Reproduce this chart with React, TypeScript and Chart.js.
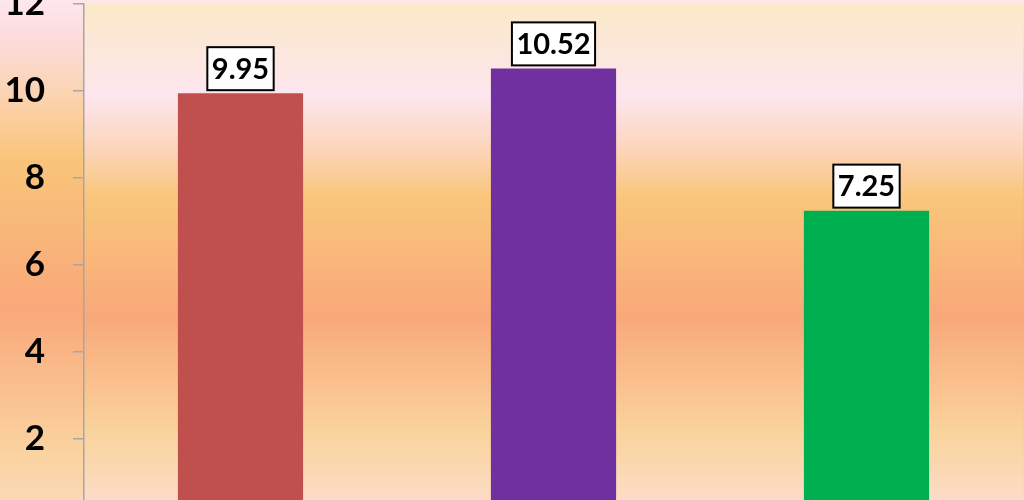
import React, { useEffect, useRef } from "react";
import { Chart, registerables } from "chart.js";

Chart.register(...registerables);

const categories = ["Category 1", "Category 2", "Category 3"];
const values = [9.95, 10.52, 7.25];
const barColors = ["#C0504D", "#7030A0", "#00B050"];
const yMin = 0;
const yMax = 12;
const yStep = 2;

const plotStops: [number, string][] = [
  [0, "#fbe9c8"],
  [0.175, "#fde6ef"],
  [0.27, "#fcd6bf"],
  [0.37, "#f9c67a"],
  [0.6, "#f9a87a"],
  [0.82, "#fad39c"],
  [1, "#fcdfd6"],
];
const outerStops: [number, string][] = [
  [0, "#fdf0e0"],
  [0.12, "#fde8ec"],
  [0.175, "#fcdde0"],
  [0.27, "#fbd3b0"],
  [0.37, "#f9c47a"],
  [0.6, "#f9a87a"],
  [0.82, "#fad3a0"],
  [1, "#fcdfd6"],
];

const OFFSET = 45;

const bgPlugin = {
  id: "bgPlugin",
  beforeDraw(chart: any) {
    const { ctx, width, height, chartArea } = chart;
    ctx.save();
    const g = ctx.createLinearGradient(0, OFFSET - 80, 0, OFFSET + 570);
    outerStops.forEach(([o, c]) => g.addColorStop(o, c));
    ctx.fillStyle = g;
    ctx.fillRect(0, 0, width, height);
    const p = ctx.createLinearGradient(0, chartArea.top, 0, chartArea.bottom);
    plotStops.forEach(([o, c]) => p.addColorStop(o, c));
    ctx.fillStyle = p;
    ctx.fillRect(chartArea.left, chartArea.top, chartArea.right - chartArea.left, chartArea.bottom - chartArea.top);
    ctx.restore();
  },
};

const labelPlugin = {
  id: "labelPlugin",
  afterDatasetsDraw(chart: any) {
    const { ctx } = chart;
    const meta = chart.getDatasetMeta(0);
    ctx.save();
    ctx.font = "700 29px Lato";
    meta.data.forEach((bar: any, i: number) => {
      const text = values[i].toFixed(2);
      const w = ctx.measureText(text).width + 9;
      const h = 43;
      const x = bar.x - w / 2;
      const y = bar.y - 3 - h;
      ctx.fillStyle = "#ffffff";
      ctx.fillRect(x, y, w, h);
      ctx.strokeStyle = "#000000";
      ctx.lineWidth = 2;
      ctx.strokeRect(x, y, w, h);
      ctx.fillStyle = "#000000";
      ctx.textAlign = "center";
      ctx.textBaseline = "middle";
      ctx.fillText(text, bar.x, y + h / 2 + 1);
    });
    ctx.restore();
  },
};

export default function App() {
  const ref = useRef<HTMLCanvasElement | null>(null);
  useEffect(() => {
    if (!ref.current) return;
    const chart = new Chart(ref.current, {
      type: "bar",
      data: {
        labels: categories,
        datasets: [
          {
            data: values,
            backgroundColor: barColors,
            borderWidth: 0,
            barPercentage: 0.4,
            categoryPercentage: 1.0,
          },
        ],
      },
      options: {
        animation: false,
        responsive: true,
        maintainAspectRatio: false,
        layout: { padding: { top: 0, bottom: 0, left: 0, right: 1 } },
        plugins: {
          legend: { display: false },
          tooltip: { enabled: false },
        },
        scales: {
          x: { display: false },
          y: {
            min: yMin,
            max: yMax,
            afterFit: (scale: any) => {
              scale.width = 84;
            },
            ticks: {
              stepSize: yStep,
              padding: 28,
              color: "#000000",
              font: { family: "Lato", weight: "bold", size: 35 },
            },
            grid: {
              drawOnChartArea: false,
              drawTicks: true,
              tickLength: 11,
              color: "#a6a6a6",
              lineWidth: 1.5,
            },
            border: { display: true, color: "#a6a6a6", width: 1.5 },
          },
        },
      },
      plugins: [bgPlugin, labelPlugin],
    });
    return () => chart.destroy();
  }, []);
  return (
    <div style={{ position: "fixed", left: 0, top: -OFFSET, width: 1024, height: 620 }}>
      <canvas ref={ref} />
    </div>
  );
}
